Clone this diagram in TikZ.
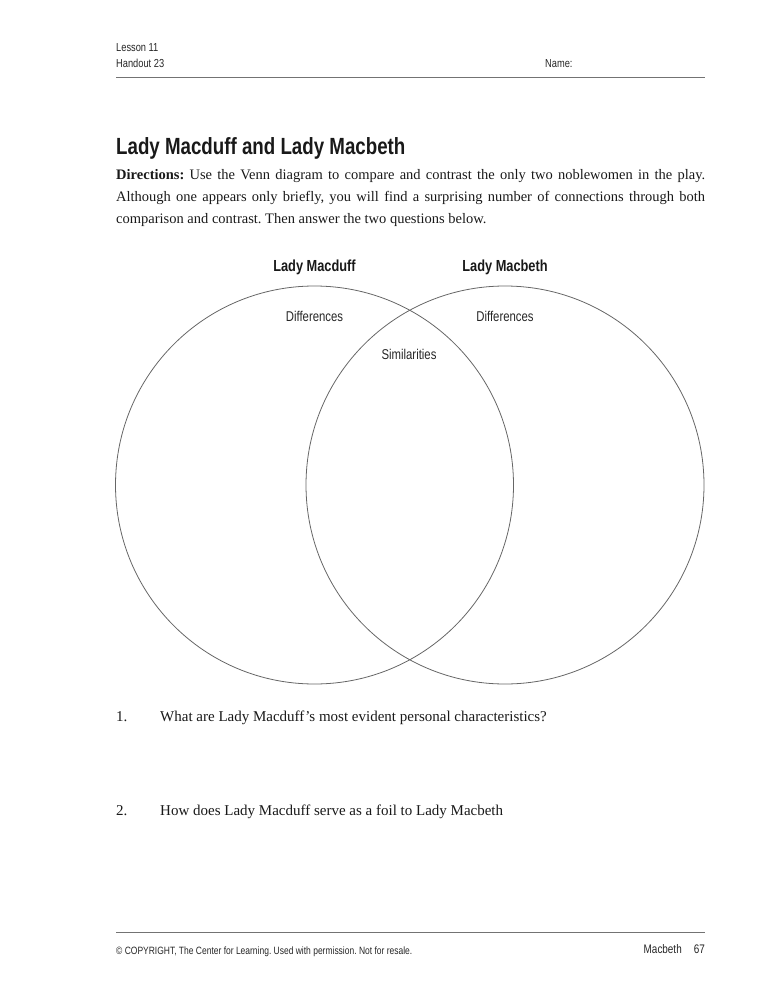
\documentclass[tikz,border=0pt]{standalone}
\usepackage{fontspec}
\setmainfont{Liberation Serif}
\newfontfamily\condsans[FakeStretch=0.8]{Liberation Sans}
\frenchspacing
\tikzset{
  hdtext/.style={font=\condsans\fontsize{11.6}{13}\selectfont, text=black!85, inner sep=0pt},
  ftext/.style={font=\condsans\fontsize{10.6}{12}\selectfont, text=black!85, inner sep=0pt},
  bodytext/.style={font=\fontsize{14.5}{17}\selectfont, text=black!90, inner sep=0pt, anchor=base west},
  qtext/.style={font=\fontsize{15}{18}\selectfont, text=black!90, inner sep=0pt, anchor=base west},
  circlabel/.style={font=\condsans\bfseries\fontsize{16}{18}\selectfont, text=black!90, inner sep=0pt},
  zonelabel/.style={font=\condsans\fontsize{14.2}{16}\selectfont, text=black!85, inner sep=0pt},
  rulestyle/.style={line width=1pt, draw=black!55},
  venn/.style={line width=0.8pt, draw=black!60}
}
\begin{document}
\begin{tikzpicture}[x=1pt,y=-1pt]
\useasboundingbox (0,0) rectangle (773,1000);
% header
\node[hdtext, anchor=base west] (lesson) at (116,52) {Lesson 11};
\node[hdtext, anchor=base west] (handout) at (116,68) {Handout 23};
\node[hdtext, anchor=base west] (name) at (545,68) {Name:};
\draw[rulestyle] (116,78) -- (705,78);
% title and directions
\node[font=\condsans\bfseries\fontsize{23.4}{26}\selectfont, text=black!90, inner sep=0pt, anchor=base west] (title) at (116,155) {Lady Macduff and Lady Macbeth};
\node[bodytext] (dir1) at (116,180) {\makebox[589pt][s]{\textbf{Directions:} Use the Venn diagram to compare and contrast the only two noblewomen in the play.}};
\node[bodytext] (dir2) at (116,201.5) {\makebox[589pt][s]{Although one appears only briefly, you will find a surprising number of connections through both}};
\node[bodytext] (dir3) at (116,223) {comparison and contrast. Then answer the two questions below.};
% venn diagram
\draw[venn] (314.5,485) circle [radius=199];
\draw[venn] (505,485) circle [radius=199];
\node[circlabel] (macduff) at (314.5,267) {Lady Macduff};
\node[circlabel] (macbeth) at (505,267) {Lady Macbeth};
\node[zonelabel] (diffl) at (314.5,316) {Differences};
\node[zonelabel] (diffr) at (505,316) {Differences};
\node[zonelabel] (simil) at (409,354) {Similarities};
% questions
\node[qtext] (q1n) at (116,721) {1.};
\node[qtext] (q1) at (160,721) {What are Lady Macduff’s most evident personal characteristics?};
\node[qtext] (q2n) at (116,815) {2.};
\node[qtext] (q2) at (160,815) {How does Lady Macduff serve as a foil to Lady Macbeth};
% footer
\draw[rulestyle] (116,932) -- (705,932);
\node[ftext, anchor=base west] (copy) at (116,954) {© COPYRIGHT, The Center for Learning. Used with permission. Not for resale.};
\node[ftext, font=\condsans\fontsize{12.4}{14}\selectfont, anchor=base east] (page) at (705,953) {Macbeth\hspace{12pt}67};
\end{tikzpicture}
\end{document}
